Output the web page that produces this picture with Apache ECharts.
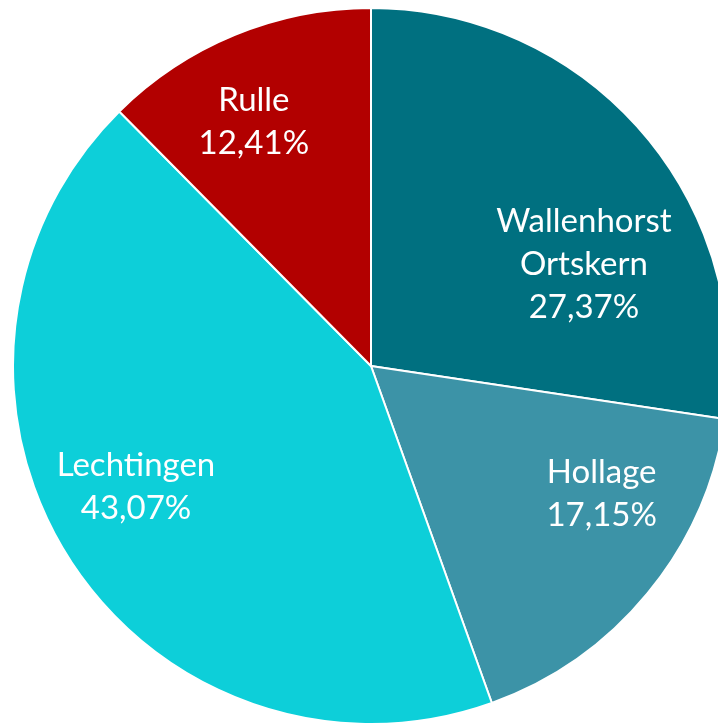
<!DOCTYPE html>
<html>
<head>
<meta charset="utf-8">
<script src="https://cdn.jsdelivr.net/npm/echarts@6/dist/echarts.min.js"></script>
<style>
html,body{margin:0;padding:0;background:#fff;}
#demo{width:718px;height:726px;}
</style>
</head>
<body>
<div id="demo"></div>
<script>
var names = ['Wallenhorst\nOrtskern', 'Hollage', 'Lechtingen', 'Rulle'];
var values = [27.37, 17.15, 43.07, 12.41];
var colors = ['#007080', '#3c93a7', '#0dcfd9', '#b20000'];
// label shift from the default inside spot
var labelShift = [[75, 17], [90, 12], [-81, 24], [-48, -76]];

var mychar = echarts.init(document.getElementById('demo'));
var data = [];
for (var i = 0; i < names.length; i++) {
    data.push({name: names[i], value: values[i], itemStyle: {color: colors[i]}});
}
mychar.setOption({
    animation: false,
    series: [{
        type: 'pie',
        center: [371, 366],
        radius: 358,
        startAngle: 90,
        clockwise: true,
        data: data,
        itemStyle: {borderColor: '#fff', borderWidth: 2},
        label: {
            show: true,
            position: 'inside',
            color: '#fff',
            fontFamily: 'Lato',
            fontSize: 33,
            lineHeight: 43,
            formatter: function(p) {
                return p.name + '\n' + p.value.toFixed(2).replace('.', ',') + '%';
            }
        },
        labelLine: {show: false},
        labelLayout: function(p) {
            var s = labelShift[p.dataIndex];
            return {dx: s[0], dy: s[1]};
        }
    }]
});
</script>
</body>
</html>
